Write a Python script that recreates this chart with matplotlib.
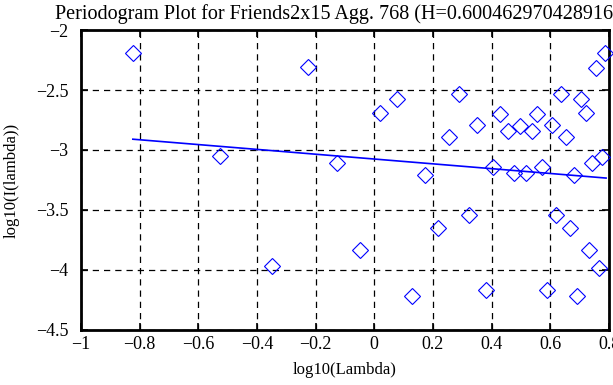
import matplotlib
matplotlib.use("Agg")
import matplotlib.pyplot as plt

plt.rcParams.update({
    "font.family": ["Liberation Serif", "DejaVu Serif"],
    "font.size": 12,
})

# Periodogram points (log10 frequency, log10 power)
log_lambda = [-0.823, -0.225, -0.526, -0.126, -0.349, -0.048, 0.020, 0.077,
              0.128, 0.174, 0.216, 0.254, 0.290, 0.322, 0.350, 0.381,
              0.405, 0.430, 0.455, 0.475, 0.498, 0.517, 0.536, 0.555,
              0.572, 0.589, 0.606, 0.621, 0.637, 0.654, 0.667, 0.680,
              0.692, 0.705, 0.720, 0.731, 0.743, 0.754, 0.766, 0.777, 0.788]
log_power = [-2.19, -2.31, -3.05, -3.11, -3.97, -3.83, -2.69, -2.575,
             -4.22, -3.21, -3.65, -2.89, -2.53, -3.54, -2.79, -4.17,
             -3.14, -2.70, -2.84, -3.19, -2.80, -3.19, -2.84, -2.70,
             -3.14, -4.17, -2.79, -3.54, -2.53, -2.89, -3.65, -3.21,
             -4.22, -2.575, -2.69, -3.83, -3.11, -2.32, -3.98, -3.06, -2.19]

# Least-squares fit line end points
fit_x = [-0.823, 0.79]
fit_y = [-2.91, -3.234]

x_ticks = [-1, -0.8, -0.6, -0.4, -0.2, 0, 0.2, 0.4, 0.6, 0.8]
y_ticks = [-4.5, -4, -3.5, -3, -2.5, -2]

fig = plt.figure(figsize=(6.13, 3.85), dpi=100)
ax = fig.add_axes([0.132, 0.143, 0.8615, 0.779])

ax.plot(log_lambda, log_power, linestyle="none", marker="D", markersize=8,
        markerfacecolor="none", markeredgecolor="blue", markeredgewidth=0.8,
        clip_on=False, zorder=3)
ax.plot(fit_x, fit_y, color="blue", linewidth=1.2, zorder=3)

ax.set_xlim(-1, 0.8)
ax.set_ylim(-4.5, -2)
ax.set_xticks(x_ticks)
ax.set_xticklabels([f"{v:g}".replace("-", "\u2212") for v in x_ticks])
ax.set_yticks(y_ticks)
ax.set_yticklabels([f"{v:g}".replace("-", "\u2212") for v in y_ticks])

ax.grid(True, color="black", linestyle=(0, (5, 4)), linewidth=0.9)
ax.tick_params(direction="in", top=True, right=True, length=5, width=1.2,
               labelsize=13)
ax.tick_params(axis="y", pad=9)
ax.tick_params(axis="x", pad=4)
for sp in ax.spines.values():
    sp.set_linewidth(2)

ax.set_xlabel("log10(Lambda)", labelpad=7)
ax.set_ylabel("log10(I(lambda))", labelpad=12)
fig.text(55 / 613, 1 - 19 / 385,
         "Periodogram Plot for Friends2x15 Agg. 768 (H=0.6004629704289165)",
         fontsize=14.5, ha="left", va="baseline")

fig.savefig("out.png", dpi=100)
